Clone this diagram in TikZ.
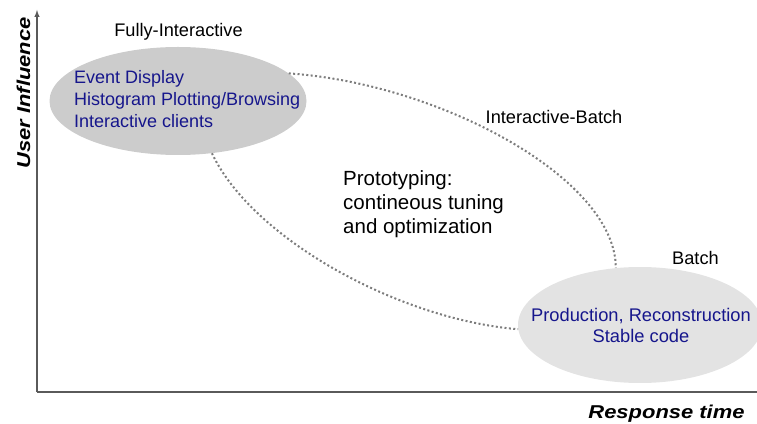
\documentclass[tikz,border=0pt]{standalone}
\usepackage{fontspec}
\setmainfont{Liberation Sans}
\usepackage{tikz}
\usetikzlibrary{shapes.geometric}
\definecolor{ellgray}{RGB}{204,204,204}
\definecolor{palegray}{RGB}{227,227,227}
\definecolor{navytext}{RGB}{22,22,140}
\definecolor{axisgray}{RGB}{90,90,90}
\definecolor{dotgray}{RGB}{125,125,125}

\begin{document}
\begin{tikzpicture}[x=1pt, y=1pt,
    cloud/.style={ellipse, inner sep=0pt, draw=none},
    inside/.style={inner sep=0pt, text=navytext},
    tag/.style={inner sep=0pt, text=black, font=\fontsize{18.2}{22}\selectfont},
    axislabel/.style={inner sep=0pt, font=\fontsize{18.6}{20}\selectfont\bfseries\itshape},
    axis/.style={line width=1.4pt, draw=axisgray},
    trend/.style={line width=2pt, draw=dotgray, dash pattern=on 2pt off 2.4pt}]
  \useasboundingbox (0,0) rectangle (757,423);
  % the two working modes
  \node [cloud, fill=ellgray, minimum width=257pt, minimum height=108pt] (FULLY) at (178,322) {};
  \node [cloud, fill=palegray, minimum width=244pt, minimum height=116pt] (BATCH) at (640,98) {};
  \node [inside, align=left, anchor=west, font=\fontsize{18}{22}\selectfont] (FULLYTXT) at (74,324) {Event Display\\Histogram Plotting/Browsing\\Interactive clients};
  \node [inside, align=center, font=\fontsize{18.3}{21}\selectfont] (BATCHTXT) at (641,98) {Production, Reconstruction\\Stable code};
  % labels round the modes
  \node [tag, anchor=base] (FULLYTAG) at (178.5,386) {Fully-Interactive};
  \node [tag, anchor=base] (MIDTAG) at (554,299) {Interactive-Batch};
  \node [tag, anchor=base] (BATCHTAG) at (695.5,158) {Batch};
  \node [inner sep=0pt, align=left, anchor=west, font=\fontsize{20.5}{23.8}\selectfont] (PROTO) at (343,218.5) {Prototyping:\\contineous tuning\\and optimization};
  % dotted bounds of the interactive-batch zone
  \draw [trend] (FULLY.14) .. controls +(150,-10) and +(0,90) .. (BATCH.113);
  \draw [trend] (FULLY.-57) .. controls +(40,-85) and +(-120,10) .. (BATCH.182);
  % axes
  \coordinate (ORIGIN) at (37,31);
  \coordinate (YEND) at (37,413);
  \coordinate (XEND) at (757,31);
  \draw [axis, -latex] (ORIGIN) -- (YEND);
  \draw [axis] (ORIGIN) -- (XEND);
  \node [axislabel, rotate=90, anchor=base] (YLBL) at (30,330) {\scalebox{1.18}[1]{User Influence}};
  \node [axislabel, anchor=base] (XLBL) at (666.5,4.5) {\scalebox{1.18}[1]{Response time}};
\end{tikzpicture}
\end{document}
